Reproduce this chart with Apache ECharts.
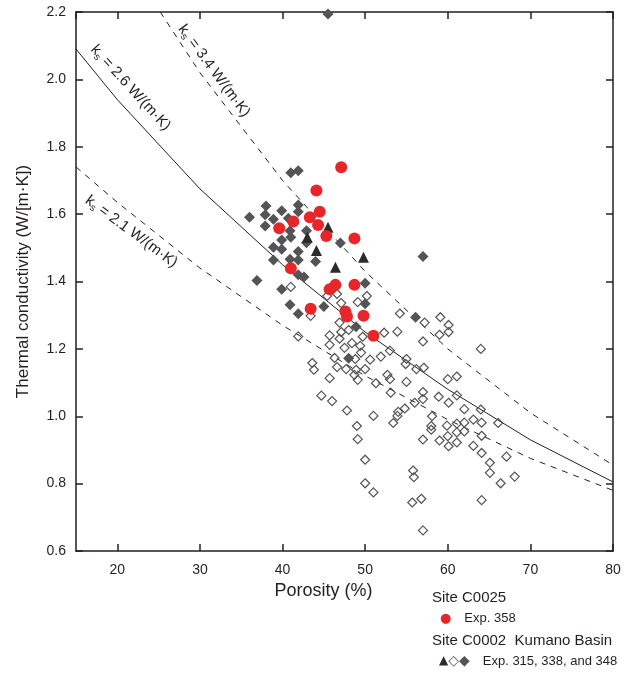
<!DOCTYPE html>
<html>
<head>
<meta charset="utf-8">
<script src="https://cdn.jsdelivr.net/npm/echarts@6/dist/echarts.min.js"></script>
<style>
  html, body { margin: 0; padding: 0; background: #fff; }
  #chart { width: 632px; height: 673px; }
</style>
</head>
<body>
<div id="chart"></div>
<script>
// tick labels
const xTicks = [20, 30, 40, 50, 60, 70, 80]
const yTicks = [0.6, 0.8, 1.0, 1.2, 1.4, 1.6, 1.8, 2.0, 2.2]

const curveX = [15, 20, 30, 40, 50, 60, 70, 80]
const ks26 = [2.09, 1.94, 1.675, 1.45, 1.25, 1.08, 0.93, 0.805]
const ks21 = [1.74, 1.635, 1.44, 1.27, 1.12, 0.99, 0.875, 0.78]
const ks34X = [25.2, 30, 40, 50, 60, 70, 80]
const ks34 = [2.2, 2.02, 1.70, 1.43, 1.20, 1.01, 0.855]

// Site C0025, Exp. 358
const c0025 = [
  [47.1, 1.739], [44.1, 1.670], [44.5, 1.607], [43.3, 1.591], [41.3, 1.578], [39.6, 1.558],
  [44.3, 1.568], [45.3, 1.535], [48.7, 1.528], [41.0, 1.439], [46.4, 1.390], [45.7, 1.377],
  [48.7, 1.390], [43.4, 1.319], [47.6, 1.311], [47.8, 1.296], [49.8, 1.298], [51.0, 1.239]
]

// Site C0002, Kumano Basin
const c0002Tri = [[45.5, 1.561], [43.0, 1.531], [44.1, 1.492], [46.4, 1.442], [49.8, 1.472]]

const c0002Filled = [
  [45.5, 2.194], [41.0, 1.723], [41.9, 1.729], [38.0, 1.624], [41.9, 1.627], [36.0, 1.591],
  [37.9, 1.598], [38.9, 1.585], [39.9, 1.610], [40.7, 1.588], [41.9, 1.607], [37.9, 1.565],
  [40.9, 1.551], [42.9, 1.551], [39.9, 1.523], [41.0, 1.531], [38.9, 1.502], [39.9, 1.496],
  [41.9, 1.489], [42.9, 1.515], [38.9, 1.464], [40.9, 1.466], [41.9, 1.464], [44.0, 1.459],
  [47.0, 1.514], [57.0, 1.474], [36.9, 1.403], [41.9, 1.420], [42.6, 1.413], [39.9, 1.377],
  [40.9, 1.331], [41.9, 1.304], [45.0, 1.326], [50.0, 1.395], [50.0, 1.334], [56.1, 1.294],
  [48.9, 1.266], [48.0, 1.172]
]

const c0002Open = [
  [41.0, 1.384], [45.4, 1.357], [46.6, 1.363], [47.1, 1.336], [49.1, 1.339], [50.2, 1.357],
  [43.4, 1.298], [54.2, 1.305], [59.1, 1.294], [60.1, 1.271], [57.2, 1.278], [46.9, 1.278],
  [47.1, 1.250], [48.0, 1.256], [41.9, 1.237], [45.7, 1.240], [46.9, 1.230], [49.7, 1.236],
  [52.3, 1.248], [53.9, 1.251], [57.0, 1.222], [59.0, 1.242], [60.1, 1.250], [64.0, 1.200],
  [47.5, 1.203], [48.4, 1.217], [49.4, 1.209], [45.7, 1.212], [49.5, 1.189], [46.3, 1.173],
  [48.8, 1.170], [50.6, 1.168], [51.9, 1.177], [53.0, 1.195], [55.0, 1.170], [54.9, 1.155],
  [43.6, 1.158], [43.8, 1.138], [46.6, 1.146], [47.7, 1.140], [48.9, 1.138], [50.0, 1.140],
  [48.7, 1.123], [49.1, 1.108], [45.7, 1.113], [51.3, 1.098], [52.7, 1.123], [53.0, 1.110],
  [55.0, 1.102], [56.2, 1.140], [57.1, 1.144], [53.1, 1.070], [57.0, 1.072], [57.0, 1.051],
  [60.0, 1.110], [61.1, 1.118], [61.1, 1.062], [58.9, 1.058], [60.1, 1.040], [56.0, 1.040],
  [54.8, 1.023], [54.0, 1.013], [44.7, 1.061], [46.0, 1.045], [47.8, 1.017], [51.0, 1.001],
  [53.9, 1.001], [53.4, 0.980], [58.1, 1.000], [58.0, 0.971], [58.0, 0.960], [59.9, 0.972],
  [61.1, 0.978], [62.0, 0.981], [63.1, 0.990], [64.1, 0.981], [66.1, 0.980], [62.0, 1.021],
  [64.0, 1.020], [61.1, 0.952], [62.0, 0.955], [60.0, 0.941], [59.0, 0.928], [60.1, 0.911],
  [61.1, 0.922], [57.0, 0.931], [63.1, 0.912], [64.1, 0.942], [64.1, 0.891], [67.1, 0.880],
  [65.1, 0.862], [65.1, 0.832], [66.4, 0.801], [68.1, 0.821], [55.8, 0.839], [55.9, 0.819],
  [56.8, 0.755], [55.7, 0.744], [64.1, 0.751], [57.0, 0.661], [49.0, 0.971], [49.1, 0.932],
  [50.0, 0.871], [50.0, 0.801], [51.0, 0.774]
]

const font = 'Liberation Sans, Arial, Helvetica, sans-serif'
const ink = '#231f20'
const red = '#e8262a'
const gray = '#545456'

const myChart = echarts.init(document.getElementById('chart'))

function zip (xs, ys) {
  return xs.map((x, i) => [x, ys[i]])
}

function frameAxis (opts) {
  return Object.assign({
    type: 'value',
    splitLine: { show: false },
    axisLine: { show: true, onZero: false, lineStyle: { color: ink, width: 1.5 } },
    axisTick: { show: true, inside: true, length: 7, lineStyle: { color: ink, width: 1.5 } },
    axisLabel: { show: false }
  }, opts)
}

let option = {
  animation: false,
  backgroundColor: '#fff',
  grid: { left: 76, right: 19, top: 12, bottom: 122 },
  xAxis: [
    frameAxis({
      min: 15,
      max: 80,
      position: 'bottom',
      name: 'Porosity (%)',
      nameLocation: 'middle',
      nameGap: 30,
      nameTextStyle: { fontFamily: font, fontSize: 18, color: ink, padding: [0, 42, 0, 0] },
      axisLabel: {
        show: true,
        showMinLabel: false,
        margin: 12,
        fontFamily: font,
        fontSize: 14,
        color: ink,
        formatter: v => xTicks.includes(v) ? String(v) : ''
      }
    }),
    frameAxis({ min: 15, max: 80, position: 'top' })
  ],
  yAxis: [
    frameAxis({
      min: 0.6,
      max: 2.2,
      interval: 0.2,
      position: 'left',
      name: 'Thermal conductivity (W/[m·K])',
      nameLocation: 'middle',
      nameGap: 44,
      nameTextStyle: { fontFamily: font, fontSize: 17, color: ink },
      axisLabel: {
        show: true,
        margin: 10,
        fontFamily: font,
        fontSize: 14,
        color: ink,
        formatter: v => {
          let t = yTicks.find(y => Math.abs(y - v) < 1e-6)
          return t === undefined ? '' : t.toFixed(1)
        }
      }
    }),
    frameAxis({ min: 0.6, max: 2.2, interval: 0.2, position: 'right' })
  ],
  series: [
    {
      name: 'ks 2.6',
      type: 'line',
      data: zip(curveX, ks26),
      symbol: 'none',
      lineStyle: { color: ink, width: 1 },
      z: 1
    },
    {
      name: 'ks 3.4',
      type: 'line',
      data: zip(ks34X, ks34),
      symbol: 'none',
      lineStyle: { color: ink, width: 1, type: [6, 6] },
      z: 1
    },
    {
      name: 'ks 2.1',
      type: 'line',
      data: zip(curveX, ks21),
      symbol: 'none',
      lineStyle: { color: ink, width: 1, type: [6, 6] },
      z: 1
    },
    {
      name: 'C0002 open',
      type: 'scatter',
      data: c0002Open,
      symbol: 'diamond',
      symbolSize: 9,
      itemStyle: { color: 'transparent', borderColor: gray, borderWidth: 1.2, opacity: 1 },
      z: 2
    },
    {
      name: 'C0002 filled',
      type: 'scatter',
      data: c0002Filled,
      symbol: 'diamond',
      symbolSize: 11,
      itemStyle: { color: gray, opacity: 1 },
      z: 3
    },
    {
      name: 'C0002 triangle',
      type: 'scatter',
      data: c0002Tri,
      symbol: 'triangle',
      symbolSize: 11,
      itemStyle: { color: '#2b2b2b', opacity: 1 },
      z: 4
    },
    {
      name: 'C0025',
      type: 'scatter',
      data: c0025,
      symbol: 'circle',
      symbolSize: 12,
      itemStyle: { color: red, opacity: 1 },
      z: 5
    }
  ]
}
myChart.setOption(option, true)

// curve labels, placed in data space along each curve
const curveLabels = [
  { value: '2.6', at: [21.6, 1.975], angle: -47.5 },
  { value: '3.4', at: [31.7, 2.025], angle: -53.5 },
  { value: '2.1', at: [21.7, 1.548], angle: -36.5 }
]

const legendRich = {
  h: { fontFamily: font, fontSize: 15, fill: ink },
  e: { fontFamily: font, fontSize: 13, fill: ink },
  red: { fontFamily: 'DejaVu Sans', fontSize: 13, fill: red },
  tri: { fontFamily: 'DejaVu Sans', fontSize: 12, fill: '#2b2b2b' },
  dia: { fontFamily: 'DejaVu Sans', fontSize: 14, fill: gray },
  gap: { fontSize: 12, width: 13 }
}

let graphic = curveLabels.map(c => {
  let p = myChart.convertToPixel({ gridIndex: 0 }, c.at)
  return {
    type: 'text',
    x: p[0],
    y: p[1],
    rotation: c.angle * Math.PI / 180,
    z: 10,
    style: {
      text: '{k|k}{s|s}{n| = ' + c.value + ' W/(m·K)}',
      align: 'center',
      verticalAlign: 'middle',
      rich: {
        k: { fontFamily: font, fontSize: 15, fill: ink, lineHeight: 18, verticalAlign: 'middle' },
        s: { fontFamily: font, fontSize: 10, fill: ink, lineHeight: 18, verticalAlign: 'bottom', padding: [10, 0, 0, 0] },
        n: { fontFamily: font, fontSize: 15, fill: ink, lineHeight: 18, verticalAlign: 'middle' }
      }
    }
  }
})

graphic.push(
  { type: 'text', left: 432, top: 590, style: { text: '{h|Site C0025}', rich: legendRich } },
  { type: 'text', left: 440, top: 612, style: { text: '{red|●}{gap| }{e|Exp. 358}', rich: legendRich } },
  { type: 'text', left: 432, top: 633, style: { text: '{h|Site C0002  Kumano Basin}', rich: legendRich } },
  { type: 'text', left: 439, top: 654, style: { text: '{tri|▲}{dia|◇◆}{gap| }{e|Exp. 315, 338, and 348}', rich: legendRich } }
)

myChart.setOption({ graphic: graphic })
</script>
</body>
</html>
